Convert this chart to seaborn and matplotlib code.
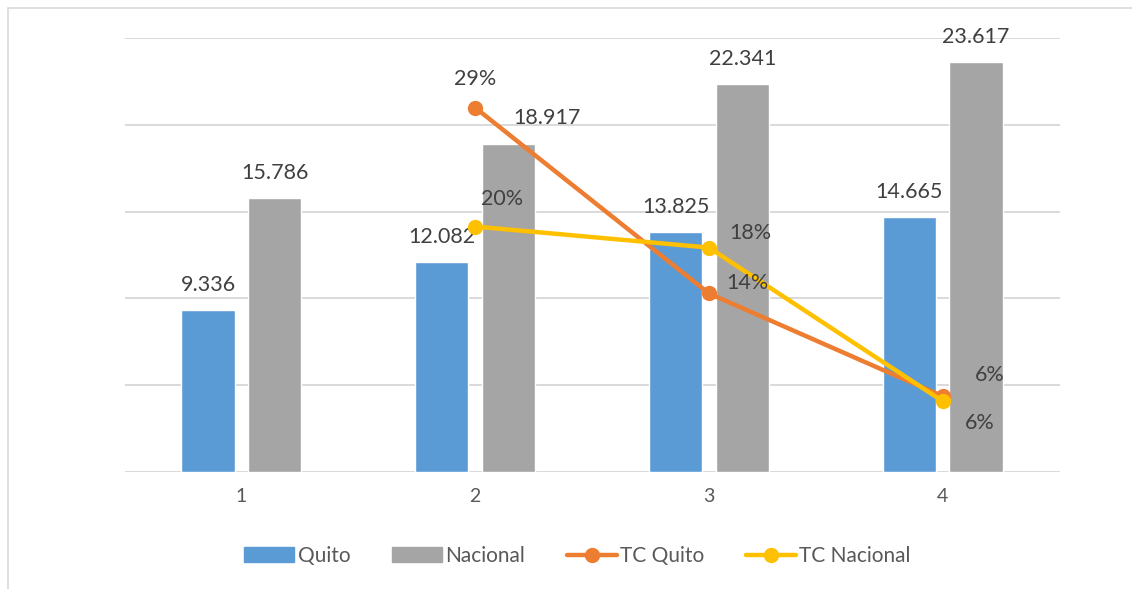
import numpy as np
import pandas as pd
import seaborn as sns
import matplotlib.pyplot as plt
from matplotlib.patches import Patch, Rectangle
from matplotlib.lines import Line2D

# data
categories = ['1', '2', '3', '4']
quito = [9.336, 12.082, 13.825, 14.665]
nacional = [15.786, 18.917, 22.341, 23.617]
tc_categories = ['2', '3', '4']
tc_quito = [29.4, 14.4, 6.1]
tc_nacional = [19.8, 18.1, 5.7]

C_QUITO = '#5B9BD5'
C_NAC = '#A5A5A5'
C_TCQ = '#ED7D31'
C_TCN = '#FFC000'
TXT = '#404040'

bars = pd.DataFrame({
    'cat': categories * 2,
    'value': quito + nacional,
    'serie': ['Quito'] * 4 + ['Nacional'] * 4,
})
pos = {c: i for i, c in enumerate(categories)}
lines = pd.DataFrame({
    'x': [pos[c] for c in tc_categories] * 2,
    'tc': tc_quito + tc_nacional,
    'serie': ['TC Quito'] * 3 + ['TC Nacional'] * 3,
})

sns.set_theme(style='white')
plt.rcParams['font.family'] = ['Lato', 'DejaVu Sans']

fig = plt.figure(figsize=(11.32, 5.89), dpi=100)
ax = fig.add_axes([0.110, 0.199, 0.826, 0.736])

sns.barplot(data=bars, x='cat', y='value', hue='serie', order=categories,
            hue_order=['Quito', 'Nacional'], palette=[C_QUITO, C_NAC],
            width=0.57, gap=0.2, saturation=1, legend=False, ax=ax)
ax.set_xlim(-0.5, 3.5)
ax.set_ylim(0, 25)
ax.set_yticks(np.arange(0, 26, 5))
ax.set_yticklabels([])
ax.tick_params(axis='y', length=0)
ax.tick_params(axis='x', length=0, labelsize=14, labelcolor='#595959', pad=12)
ax.grid(axis='y', color='#D9D9D9', linewidth=1.4)
ax.set_axisbelow(True)
ax.set_xlabel('')
ax.set_ylabel('')
sns.despine(ax=ax, left=True, top=True, right=True, bottom=True)

# value labels over bars
label_off = {(1, 'Nacional'): (39, 26)}
for cont, name in zip(ax.containers, ['Quito', 'Nacional']):
    for i, rect in enumerate(cont):
        h = rect.get_height()
        dx, dy = label_off.get((i, name), (0, 25))
        ax.annotate(f'{h:.3f}', (rect.get_x() + rect.get_width() / 2, h),
                    xytext=(dx, dy), textcoords='offset pixels',
                    ha='center', va='center', fontsize=15.5, color=TXT)

# growth rates on hidden secondary axis
ax2 = ax.twinx()
sns.lineplot(data=lines, x='x', y='tc', hue='serie',
             hue_order=['TC Quito', 'TC Nacional'], palette=[C_TCQ, C_TCN],
             marker='o', markersize=11, markeredgewidth=0, linewidth=3.2,
             legend=False, ax=ax2)
ax2.set_ylim(0, 35)
ax2.set_yticks([])
ax2.set_ylabel('')
ax2.set_xlim(-0.5, 3.5)
sns.despine(ax=ax2, left=True, top=True, right=True, bottom=True)

tcq_off = [(0, 29), (39, 10), (47, 21)]
tcn_off = [(27, 28), (41, 15), (37, -22)]
for vals, offs in [(tc_quito, tcq_off), (tc_nacional, tcn_off)]:
    for c, v, (dx, dy) in zip(tc_categories, vals, offs):
        ax2.annotate(f'{v:.0f}%', (pos[c], v), xytext=(dx, dy),
                     textcoords='offset pixels', ha='center', va='center',
                     fontsize=15.5, color=TXT)

# legend
handles = [
    Patch(color=C_QUITO),
    Patch(color=C_NAC),
    Line2D([], [], color=C_TCQ, lw=3.2, marker='o', markersize=10),
    Line2D([], [], color=C_TCN, lw=3.2, marker='o', markersize=10),
]
fig.legend(handles, ['Quito', 'Nacional', 'TC Quito', 'TC Nacional'],
           loc='center', bbox_to_anchor=(0.51, 0.056), ncol=4, frameon=False,
           fontsize=15, labelcolor='#595959', handlelength=2.4, handleheight=0.75,
           handletextpad=0.15, columnspacing=2.0)

# chart border (right and bottom edges fall outside the image)
fig.patches.append(Rectangle((8 / 1132, -0.01), 1.0, 1.01 - 8 / 589,
                             transform=fig.transFigure, fill=False,
                             edgecolor='#D9D9D9', linewidth=1.2))

fig.savefig('out.png', dpi=100)
